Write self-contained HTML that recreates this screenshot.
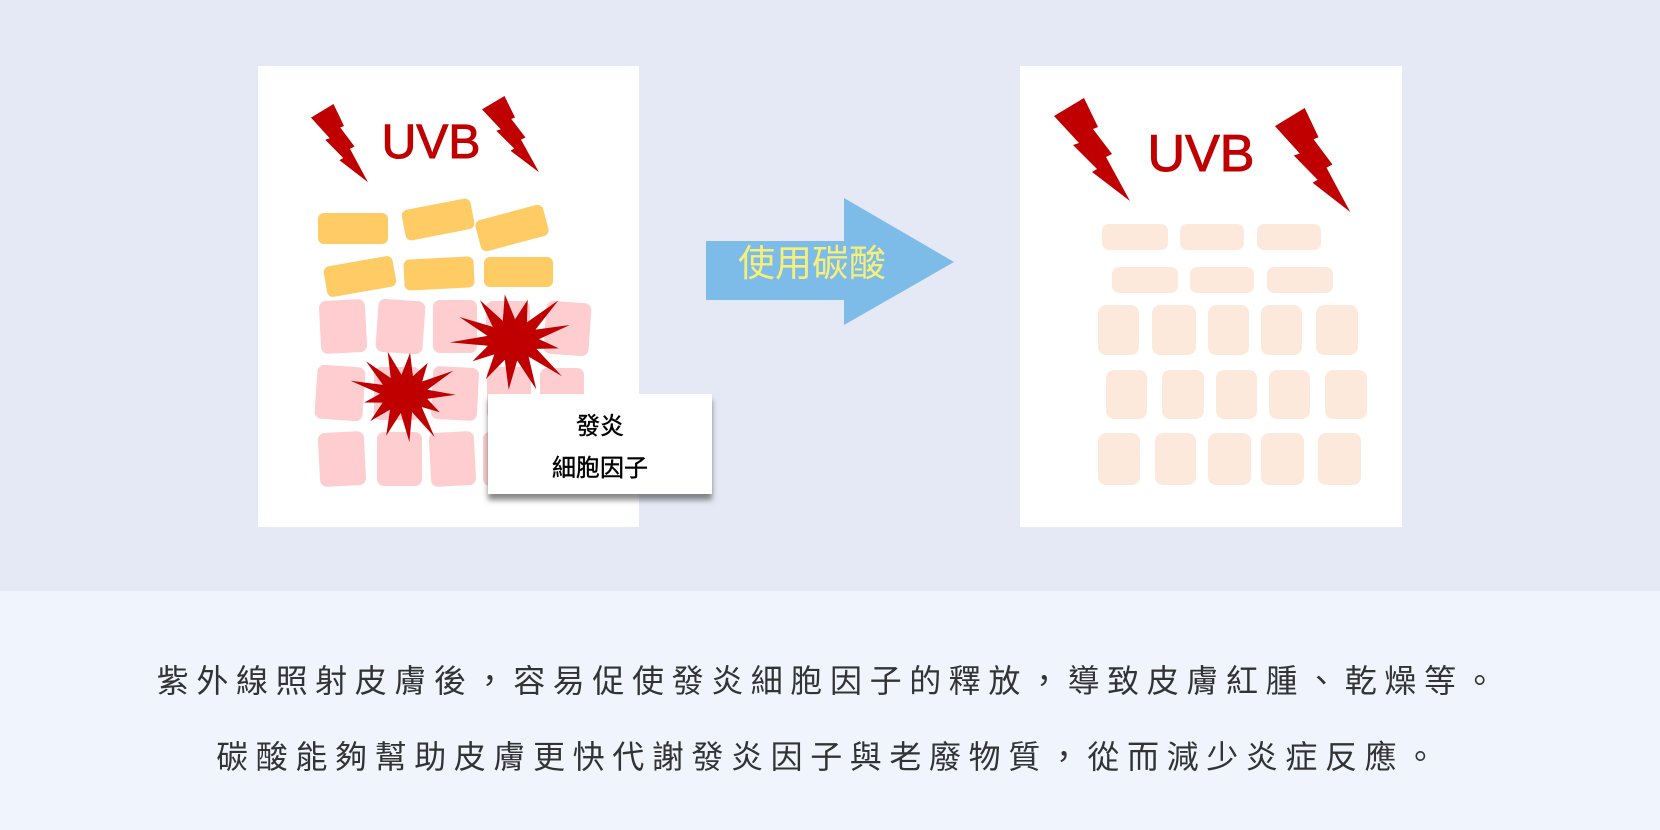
<!DOCTYPE html>
<html><head><meta charset="utf-8"><style>
html,body{margin:0;padding:0;width:1660px;height:830px;overflow:hidden;background:#f0f4fd}
.top{position:absolute;left:0;top:0;width:1660px;height:591px;background:#e4e9f5}
svg{position:absolute;left:0;top:0}
.t{position:absolute;left:0;width:1660px;text-align:center;font-family:"Liberation Sans","Noto Sans CJK TC",sans-serif;font-size:32px;letter-spacing:7.6px;color:#333}
</style></head><body>
<div class="top"></div>
<svg width="1660" height="830" viewBox="0 0 1660 830" font-family="Liberation Sans, Noto Sans CJK TC, sans-serif">
<defs>
<polygon id="bolt" points="0,18 30,0 44,29 39,31 58,56 52,59 76,103 38,74 43,71 19,47 25,45"/>
<filter id="sh" x="-10%" y="-10%" width="120%" height="140%"><feDropShadow dx="0" dy="6" stdDeviation="3" flood-color="#555" flood-opacity="0.7"/></filter>
</defs>
<rect x="258" y="66" width="381" height="461" fill="#fff"/>
<use href="#bolt" fill="#c00000" transform="translate(311,104) scale(0.75,0.76)"/>
<use href="#bolt" fill="#c00000" transform="translate(482,96) scale(0.75,0.74)"/>
<text x="431" y="158" font-size="48" fill="#c00000" text-anchor="middle" stroke="#c00000" stroke-width="1">UVB</text>
<g fill="#fecb65">
<rect x="318" y="213" width="70" height="31" rx="6"/>
<rect x="403" y="204" width="70" height="31" rx="6" transform="rotate(-11 438 219)"/>
<rect x="477" y="212" width="70" height="32" rx="6" transform="rotate(-15 512 228)"/>
<rect x="325" y="261" width="70" height="31" rx="6" transform="rotate(-10 360 277)"/>
<rect x="404" y="258" width="70" height="31" rx="6" transform="rotate(-3 439 273)"/>
<rect x="484" y="257" width="69" height="30" rx="6"/>
</g>
<g fill="#fdcdd0">
<rect x="320" y="300" width="46" height="53" rx="7" transform="rotate(-3 343 326)"/>
<rect x="377" y="300" width="47" height="53" rx="7" transform="rotate(4 400 326)"/>
<rect x="433" y="300" width="44" height="53" rx="7"/>
<rect x="486" y="301" width="44" height="53" rx="7"/>
<rect x="545" y="302" width="45" height="53" rx="7" transform="rotate(4 567 328)"/>
<rect x="316" y="366" width="48" height="54" rx="7" transform="rotate(4 340 393)"/>
<rect x="374" y="367" width="46" height="53" rx="7"/>
<rect x="432" y="367" width="46" height="53" rx="7" transform="rotate(3 455 393)"/>
<rect x="487" y="367" width="44" height="53" rx="7"/>
<rect x="540" y="368" width="44" height="53" rx="7"/>
<rect x="319" y="432" width="46" height="54" rx="7" transform="rotate(-3 342 459)"/>
<rect x="377" y="432" width="45" height="54" rx="7"/>
<rect x="430" y="432" width="45" height="54" rx="7" transform="rotate(-3 452 459)"/>
<rect x="483" y="432" width="40" height="54" rx="7"/>
</g>
<polygon id="s1" fill="#c00000"/>
<polygon id="s2" fill="#c00000"/>
<rect x="488" y="394" width="224" height="100" fill="#fff" filter="url(#sh)"/>
<text x="600" y="434" font-size="24" fill="#000" text-anchor="middle" stroke="#000" stroke-width="0.4">發炎</text>
<text x="600" y="476" font-size="24" fill="#000" text-anchor="middle" stroke="#000" stroke-width="0.4">細胞因子</text>
<polygon points="706,241 844,241 844,198 954,262 844,325 844,300 706,300" fill="#7dbbe8"/>
<text x="812" y="276" font-size="37" fill="#f6f07a" text-anchor="middle">使用碳酸</text>
<rect x="1020" y="66" width="382" height="461" fill="#fff"/>
<use href="#bolt" fill="#c00000" transform="translate(1054,98)"/>
<use href="#bolt" fill="#c00000" transform="translate(1275,108) scale(0.99,1.01)"/>
<text x="1201" y="171" font-size="52" fill="#c00000" text-anchor="middle" stroke="#c00000" stroke-width="1">UVB</text>
<g fill="#fde9dc">
<rect x="1102" y="224" width="66" height="26" rx="7"/><rect x="1180" y="224" width="64" height="26" rx="7"/><rect x="1257" y="224" width="64" height="26" rx="7"/>
<rect x="1112" y="267" width="66" height="26" rx="7"/><rect x="1190" y="267" width="64" height="26" rx="7"/><rect x="1267" y="267" width="66" height="26" rx="7"/>
<rect x="1098" y="305" width="41" height="50" rx="8"/><rect x="1152" y="305" width="44" height="50" rx="8"/><rect x="1208" y="305" width="41" height="50" rx="8"/><rect x="1261" y="305" width="41" height="50" rx="8"/><rect x="1316" y="305" width="42" height="50" rx="8"/>
<rect x="1106" y="370" width="41" height="49" rx="8"/><rect x="1162" y="370" width="42" height="49" rx="8"/><rect x="1216" y="370" width="41" height="49" rx="8"/><rect x="1269" y="370" width="41" height="49" rx="8"/><rect x="1325" y="370" width="42" height="49" rx="8"/>
<rect x="1098" y="433" width="42" height="52" rx="8"/><rect x="1155" y="433" width="41" height="52" rx="8"/><rect x="1208" y="433" width="43" height="52" rx="8"/><rect x="1261" y="433" width="43" height="52" rx="8"/><rect x="1318" y="433" width="43" height="52" rx="8"/>
</g>
</svg>
<div class="t" style="top:656px">紫外線照射皮膚後，容易促使發炎細胞因子的釋放，導致皮膚紅腫、乾燥等。</div>
<div class="t" style="top:732px">碳酸能夠幫助皮膚更快代謝發炎因子與老廢物質，從而減少炎症反應。</div>
<script>
function star(id,cx,cy,rx,ry,ri,n,rot){
 var p=[];for(var i=0;i<2*n;i++){var a=rot+Math.PI*i/n;var o=i%2==0;var k=o?(0.85+0.3*((i*7)%5)/4):1;
 p.push((cx+Math.cos(a)*(o?rx*k:ri)).toFixed(1)+","+(cy+Math.sin(a)*(o?ry*k:ri*0.8)).toFixed(1));}
 document.getElementById(id).setAttribute("points",p.join(" "));}
star("s1",513,340,55,50,26,13,0.2);
star("s2",404,394,48,45,24,13,0.5);
</script>
</body></html>
